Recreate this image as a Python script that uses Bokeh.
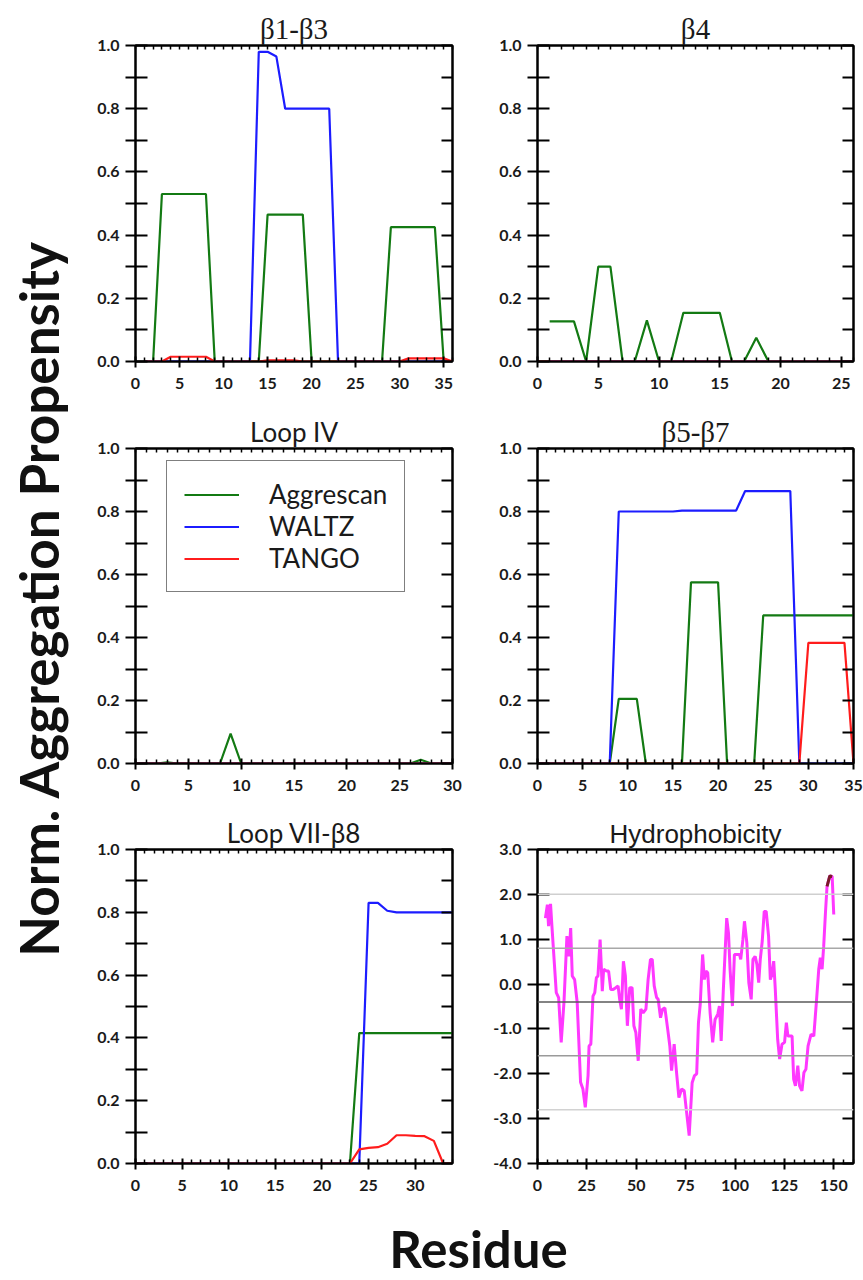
import math
import numpy as np
from bokeh.plotting import figure
from bokeh.layouts import row, column
from bokeh.models import (Range1d, LinearAxis, FixedTicker, PrintfTickFormatter,
                          CustomJSTickFormatter, Label, Span)
from bokeh.embed import file_html
from bokeh.resources import INLINE

NAN = float("nan")

# ---------------- data ----------------
# beta1-beta3
b13_res = list(range(1, 37))
b13_aggrescan = [0, 0, 0.53, 0.53, 0.53, 0.53, 0.53, 0.53, 0, 0, 0, 0, 0, 0,
                 0.465, 0.465, 0.465, 0.465, 0.465, 0, 0, 0, 0, 0, 0, 0, 0, 0,
                 0.425, 0.425, 0.425, 0.425, 0.425, 0.425, 0, 0]
b13_waltz = [0, 0, 0, 0, 0, 0, 0, 0, 0, 0, 0, 0, 0, 0.98, 0.98, 0.965, 0.80,
             0.80, 0.80, 0.80, 0.80, 0.80, 0, 0, 0, 0, 0, 0, 0, 0, 0, 0, 0, 0, 0, 0]
b13_tango = [0, 0, 0, 0.015, 0.015, 0.015, 0.015, 0.015, 0, 0, 0, 0, 0, 0,
             0.004, 0.004, 0.004, 0.004, 0, 0, 0, 0, 0, 0, 0, 0, 0, 0, 0, 0,
             0.01, 0.01, 0.01, 0.01, 0.01, 0]

# beta4
b4_res = list(range(0, 27))
b4_aggrescan = [NAN, 0.127, 0.127, 0.127, 0, 0.30, 0.30, 0, 0, 0.13, 0, 0,
                0.154, 0.154, 0.154, 0.154, 0, 0, 0.075, 0, 0, 0, 0, 0, 0, 0, 0]
b4_waltz = [NAN] + [0] * 26
b4_tango = [0] * 27

# Loop IV
l4_res = list(range(0, 31))
l4_aggrescan = [0, 0, 0, 0.004, 0, 0, 0, 0, 0, 0.095, 0, 0, 0, 0, 0, 0, 0, 0,
                0, 0, 0, 0, 0, 0, 0, 0, 0, 0.012, 0, 0, 0]
l4_waltz = [0] * 31
l4_tango = [0] * 31

# beta5-beta7
b57_res = list(range(0, 36))
b57_aggrescan = [0, 0, 0, 0, 0, 0, 0, 0, 0, 0.205, 0.205, 0.205, 0, 0, 0, 0, 0,
                 0.575, 0.575, 0.575, 0.575, 0, 0, 0, 0, 0.47, 0.47, 0.47, 0.47,
                 0.47, 0.47, 0.47, 0.47, 0.47, 0.47, 0.47]
b57_waltz = [0, 0, 0, 0, 0, 0, 0, 0, 0, 0.80, 0.80, 0.80, 0.80, 0.80, 0.80, 0.80,
             0.803, 0.803, 0.803, 0.803, 0.803, 0.803, 0.803, 0.865, 0.865, 0.865,
             0.865, 0.865, 0.865, 0, 0, 0, 0, 0, 0, 0]
b57_tango = [0] * 30 + [0.383, 0.383, 0.383, 0.383, 0.383, 0]

# Loop VII-beta8
l7_res = list(range(0, 35))
l7_aggrescan = [0] * 24 + [0.415] * 11
l7_waltz = [0] * 25 + [0.83, 0.83, 0.805, 0.80, 0.80, 0.80, 0.80, 0.80, 0.80, 0.80]
l7_tango = [0] * 24 + [0.045, 0.05, 0.052, 0.063, 0.09, 0.09, 0.088, 0.087, 0.072, 0, 0]

# Hydrophobicity
hyd_res = [4, 5, 5.6, 6.6, 7.3, 9.5, 10.7, 12, 13.4, 14.9, 15.9, 16.8, 17.6, 18.8,
           20.1, 21.8, 23, 24.2, 25.6, 26.1, 27, 28.1, 29, 29.8, 30.6, 31.7, 32.3,
           32.8, 33.5, 34.9, 36, 37.1, 38.3, 39.6, 40.8, 41.6, 42.5, 43.5, 44.5,
           45.5, 46.7, 47.9, 48.8, 49.8, 51, 52.3, 53.5, 54.9, 56, 57.2, 58.1, 59.1,
           60.3, 61.1, 62.3, 63.3, 64.5, 65.9, 67, 67.9, 69.2, 70.4, 71.6, 73, 74.3,
           75.5, 76.8, 78.3, 79.5, 80.6, 81.5, 82.4, 83.6, 84.5, 85.3, 86.2, 87.4,
           88.7, 89.9, 91.3, 92.1, 93, 94.1, 95.8, 96.7, 97.5, 98.7, 99.7, 100.9,
           102.3, 102.9, 104, 104.8, 106, 107, 108.2, 109.1, 110.2, 111.1, 112,
           112.8, 113.8, 114.8, 115.8, 117, 117.9, 118.7, 119.6, 120.4, 121.6,
           122.6, 123.8, 125.1, 126, 126.8, 128, 128.9, 129.7, 130.6, 131.8, 132.7,
           133.9, 134.9, 135.9, 137, 138.5, 139.9, 141.2, 142.4, 143.2, 144.1,
           144.9, 145.8, 146.6, 148, 149.2, 150]
hyd_val = [1.47, 1.77, 1.29, 1.79, 1.29, -0.19, -0.30, -1.30, -0.41, 1.07, 0.62,
           1.25, 0.18, 0.10, -0.41, -2.19, -2.34, -2.75, -2.04, -1.38, -1.34, -0.27,
           -0.19, 0.14, 0.18, 0.99, 0.40, -0.16, 0.33, 0.29, 0.29, -0.12, -0.12,
           -0.08, -0.04, -0.34, -0.56, 0.51, 0.18, -0.93, -0.08, -0.08, -0.93, -1.08,
           -1.71, -0.56, -0.64, -0.56, 0.10, 0.55, 0.55, -0.04, -0.30, -0.34, -0.75,
           -0.56, -0.53, -1.0, -1.38, -1.93, -1.34, -1.97, -2.53, -2.34, -2.38, -2.86,
           -3.38, -2.2, -2.04, -2.0, -0.86, -0.45, 0.66, 0.10, 0.29, 0.25, -0.64,
           -1.30, -0.79, -0.67, -0.49, -1.27, -0.12, 1.47, 1.14, 0.33, -0.49, 0.66,
           0.66, 0.66, 0.55, 0.99, 1.40, 0.92, 0.03, -0.34, 0.55, 0.62, 0.44, 0.03,
           0.55, 0.96, 1.62, 1.62, 1.07, 0.10, 0.21, 0.51, -0.12, -1.23, -1.67,
           -1.34, -1.30, -0.86, -1.16, -1.16, -1.16, -2.12, -2.27, -1.82, -2.27,
           -2.38, -1.97, -1.90, -1.38, -1.12, -1.16, -0.41, 0.33, 0.59, 0.33, 0.84,
           1.59, 2.18, 2.41, 2.40, 1.55]
hyd_levels = [2.0, 0.8, -0.4, -1.6, -2.8]
hyd_level_colors = ["#cfcfcf", "#a8a8a8", "#5a5a5a", "#9a9a9a", "#d2d2d2"]
hyd_threshold = 2.0

agg_yticks = [0.0, 0.2, 0.4, 0.6, 0.8, 1.0]
agg_yminor = [0.1, 0.3, 0.5, 0.7, 0.9]
hyd_yticks = [-4.0, -3.0, -2.0, -1.0, 0.0, 1.0, 2.0, 3.0]

series_names = ["Aggrescan", "WALTZ", "TANGO"]
series_colors = ["#137a13", "#1c1cff", "#ff1c1c"]

TICK_FONT = "Lato"
EMPTY = CustomJSTickFormatter(code="return ''")


def make_panel(title, title_font, title_size, xmax, xstep, xminor_step, ylo, yhi,
               yticks, yminor, width, height, bl, br, bt, bb):
    p = figure(width=width, height=height, x_range=Range1d(0, xmax),
               y_range=Range1d(ylo, yhi), output_backend="svg",
               toolbar_location=None, min_border_left=bl, min_border_right=br,
               min_border_top=bt, min_border_bottom=bb)
    p.grid.visible = False
    p.outline_line_color = "black"
    p.outline_line_width = 2
    p.background_fill_color = "white"
    p.border_fill_color = "white"
    xt = list(range(0, xmax + 1, xstep))
    xm = [v for v in range(0, xmax + 1, xminor_step) if v % xstep != 0]

    xa = p.xaxis[0]
    xa.ticker = FixedTicker(ticks=xt, minor_ticks=xm)
    xa.major_tick_in = 5
    xa.major_tick_out = 6
    xa.minor_tick_in = 4
    xa.minor_tick_out = 0
    xa.axis_line_width = 2
    xa.major_tick_line_width = 2
    xa.minor_tick_line_width = 1.5
    xa.major_label_standoff = 10
    xa.major_label_text_font = TICK_FONT
    xa.major_label_text_font_style = "bold"
    xa.major_label_text_font_size = "16px"
    xa.major_label_text_color = "#1a1a1a"

    ya = p.yaxis[0]
    ya.ticker = FixedTicker(ticks=yticks, minor_ticks=yminor)
    ya.formatter = PrintfTickFormatter(format="%.1f")
    ya.major_tick_in = 12
    ya.major_tick_out = 10
    ya.minor_tick_in = 12
    ya.minor_tick_out = 10
    ya.axis_line_width = 2
    ya.major_tick_line_width = 2
    ya.minor_tick_line_width = 2
    ya.major_label_standoff = 6
    ya.major_label_text_font = TICK_FONT
    ya.major_label_text_font_style = "bold"
    ya.major_label_text_font_size = "16px"
    ya.major_label_text_color = "#1a1a1a"

    top = LinearAxis(ticker=FixedTicker(ticks=xt, minor_ticks=xm), formatter=EMPTY,
                     major_tick_in=4, major_tick_out=0, minor_tick_in=4,
                     minor_tick_out=0, axis_line_width=2, major_tick_line_width=1.5,
                     minor_tick_line_width=1.5, major_label_standoff=0)
    p.add_layout(top, "above")
    right = LinearAxis(ticker=FixedTicker(ticks=yticks, minor_ticks=yminor),
                       formatter=EMPTY, major_tick_in=11, major_tick_out=0,
                       minor_tick_in=11, minor_tick_out=0, axis_line_width=2,
                       major_tick_line_width=2, minor_tick_line_width=2,
                       major_label_standoff=0)
    p.add_layout(right, "right")

    p.title.text = title
    p.title.align = "center"
    p.title.text_font = title_font
    p.title.text_font_size = title_size
    p.title.text_font_style = "normal"
    p.title.text_color = "#1a1a1a"
    p.title.standoff = 2
    return p


def add_series(p, x, ys, legend=False):
    for name, y, c in zip(series_names, ys, series_colors):
        if legend:
            p.line(x, y, line_color=c, line_width=2.2, legend_label=name)
        else:
            p.line(x, y, line_color=c, line_width=2.2)


SERIF = "Liberation Serif"
SANS = "Lato"

# left column: width 407 (frame 135..452), right column: width 376 (frame 537..853)
LW, RW = 407, 376
p1 = make_panel("β1-β3", SERIF, "29px", 36, 5, 1, 0, 1, agg_yticks, agg_yminor,
                LW, 400, 55, 35, 45, 39)
add_series(p1, b13_res, [b13_aggrescan, b13_waltz, b13_tango])

p2 = make_panel("β4", SERIF, "29px", 26, 5, 1, 0, 1, agg_yticks, agg_yminor,
                RW, 400, 50, 10, 45, 39)
add_series(p2, b4_res, [b4_aggrescan, b4_waltz, b4_tango])

p3 = make_panel("Loop IV", SANS, "26px", 30, 5, 1, 0, 1, agg_yticks, agg_yminor,
                LW, 405, 55, 35, 48, 42)
add_series(p3, l4_res, [l4_aggrescan, l4_waltz, l4_tango], legend=True)
lg = p3.legend[0]
lg.location = (31, 171)
lg.border_line_color = "black"
lg.border_line_width = 1.5
lg.label_text_font = SANS
lg.label_text_font_size = "26px"
lg.label_text_color = "#1a1a1a"
lg.glyph_width = 55
lg.glyph_height = 31
lg.label_height = 31
lg.label_standoff = 30
lg.padding = 17
lg.spacing = 0
lg.margin = 0
lg.background_fill_alpha = 1.0

p4 = make_panel("β5-β7", SERIF, "29px", 35, 5, 1, 0, 1, agg_yticks, agg_yminor,
                RW, 405, 50, 10, 48, 42)
add_series(p4, b57_res, [b57_aggrescan, b57_waltz, b57_tango])

p5 = make_panel("Loop VII-β8", SANS, "26px", 34, 5, 1, 0, 1, agg_yticks, agg_yminor,
                LW, 395, 55, 35, 44, 36)
add_series(p5, l7_res, [l7_aggrescan, l7_waltz, l7_tango])

p6 = make_panel("Hydrophobicity", "Liberation Sans", "26px", 160, 25, 5, -4, 3,
                hyd_yticks, [], RW, 395, 50, 10, 43, 37)
for lev, col in zip(hyd_levels, hyd_level_colors):
    p6.add_layout(Span(location=lev, dimension="width", line_color=col,
                       line_width=1.5))
hx = np.array(hyd_res, dtype=float)
hv = np.array(hyd_val, dtype=float)
p6.line(hx, hv, line_color="#ff38ff", line_width=3)
mask = hv >= hyd_threshold
p6.line(hx[mask], hv[mask], line_color="#7a1c2a", line_width=3)

# big axis labels
left_fig = figure(width=80, height=1280, x_range=Range1d(0, 80),
                  y_range=Range1d(0, 1280), output_backend="svg",
                  toolbar_location=None, min_border=0,
                  x_axis_location=None, y_axis_location=None)
left_fig.grid.visible = False
left_fig.outline_line_color = None
left_fig.add_layout(Label(x=38, y=682, x_units="screen", y_units="screen",
                          text="Norm. Aggregation Propensity", angle=math.pi / 2,
                          text_align="center", text_baseline="alphabetic",
                          text_font=SANS, text_font_style="bold",
                          text_font_size="53px", text_color="#111111"))

bottom_fig = figure(width=783, height=80, x_range=Range1d(0, 783),
                    y_range=Range1d(0, 80), output_backend="svg",
                    toolbar_location=None, min_border=0,
                    x_axis_location=None, y_axis_location=None)
bottom_fig.grid.visible = False
bottom_fig.outline_line_color = None
bottom_fig.add_layout(Label(x=398, y=32, x_units="screen", y_units="screen",
                            text="Residue", text_align="center",
                            text_baseline="alphabetic", text_font=SANS,
                            text_font_style="bold", text_font_size="51px",
                            text_color="#111111"))

layout = row(left_fig, column(row(p1, p2), row(p3, p4), row(p5, p6), bottom_fig))

open("out.html", "w").write(file_html(layout, INLINE))
